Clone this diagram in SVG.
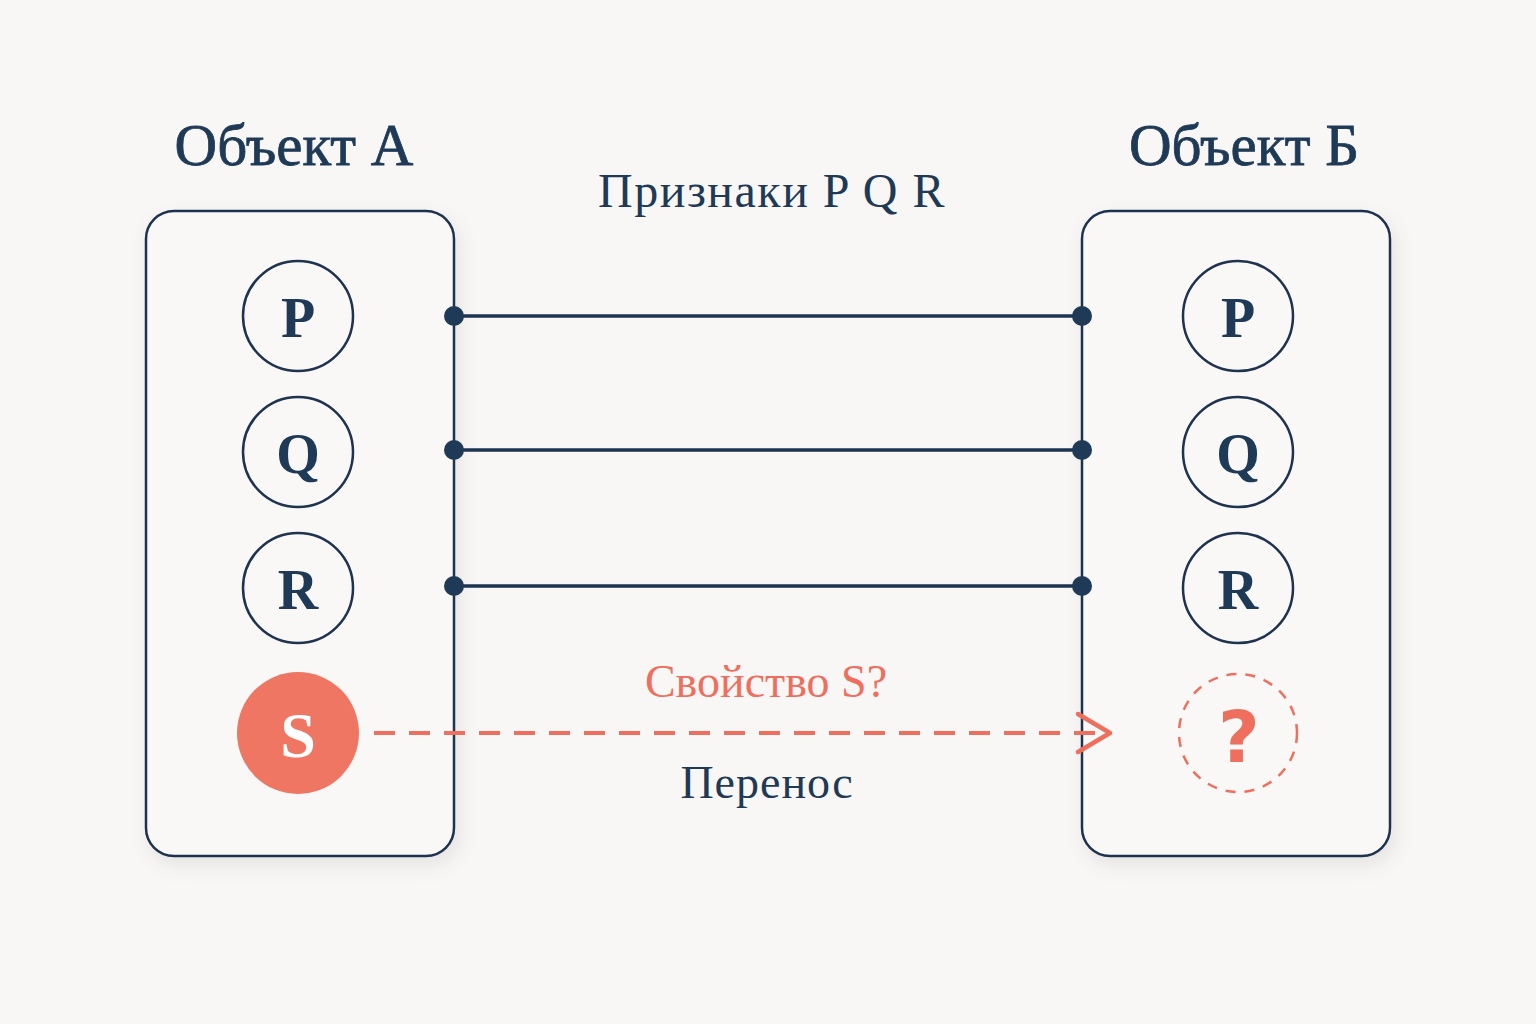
<svg xmlns="http://www.w3.org/2000/svg" width="1536" height="1024" viewBox="0 0 1536 1024">
<style>
.box{fill:#F9F8F6;stroke:#1E3350;stroke-width:2.5}
.node{fill:none;stroke:#1E3350;stroke-width:2.5}
.t{font-family:"Liberation Serif","DejaVu Serif",serif;fill:#1E3A56;text-anchor:middle}
.title{stroke:#1E3A56;stroke-width:0.8}
.lt{font-size:56px;font-weight:bold}
.link{stroke:#1E3350;stroke-width:3.5;fill:none}
.dot{fill:#1E3A56}
</style>
<defs>
<filter id="sh" x="-20%" y="-20%" width="140%" height="140%">
<feDropShadow dx="4" dy="8" stdDeviation="10" flood-color="#000" flood-opacity="0.08"/>
</filter>
<marker id="arr" markerWidth="44" markerHeight="48" refX="36" refY="24" orient="auto" markerUnits="userSpaceOnUse">
<path d="M4,5 L36,24 L4,43" fill="none" stroke="#EE6F5E" stroke-width="4.5" stroke-linecap="round" stroke-linejoin="round"/>
</marker>
</defs>
<rect width="1536" height="1024" fill="#F8F7F5"/>
<text class="t title" x="294" y="165" font-size="59">Объект А</text>
<text class="t title" x="1244" y="165" font-size="59">Объект Б</text>
<text class="t" x="772" y="207" font-size="48" letter-spacing="1.5">Признаки P Q R</text>
<g id="objectA">
<rect class="box" x="146" y="211" width="308" height="645" rx="28" filter="url(#sh)"/>
</g>
<g id="objectB">
<rect class="box" x="1082" y="211" width="308" height="645" rx="28" filter="url(#sh)"/>
</g>
<g id="A-P"><circle class="node" cx="298" cy="316" r="55"/><text class="t lt" x="298" y="337">P</text></g>
<g id="A-Q"><circle class="node" cx="298" cy="452" r="55"/><text class="t lt" x="298" y="473">Q</text></g>
<g id="A-R"><circle class="node" cx="298" cy="588" r="55"/><text class="t lt" x="298" y="609">R</text></g>
<g id="A-S"><circle cx="298" cy="733" r="61" fill="#EE7662"/><text class="t lt" x="298" y="757" style="fill:#fff;font-size:64px">S</text></g>
<g id="B-P"><circle class="node" cx="1238" cy="316" r="55"/><text class="t lt" x="1238" y="337">P</text></g>
<g id="B-Q"><circle class="node" cx="1238" cy="452" r="55"/><text class="t lt" x="1238" y="473">Q</text></g>
<g id="B-R"><circle class="node" cx="1238" cy="588" r="55"/><text class="t lt" x="1238" y="609">R</text></g>
<g id="B-unknown"><circle cx="1238" cy="733" r="59" fill="none" stroke="#EE6F5E" stroke-width="2.5" stroke-dasharray="10 9"/><text x="1239" y="762" style="fill:#EE6F5E;font-family:'DejaVu Sans',sans-serif;font-weight:bold;font-size:72px;text-anchor:middle">?</text></g>
<g id="connectors">
<line class="link" x1="454" y1="316" x2="1082" y2="316"/>
<line class="link" x1="454" y1="450" x2="1082" y2="450"/>
<line class="link" x1="454" y1="586" x2="1082" y2="586"/>
<circle class="dot" cx="454" cy="316" r="10"/><circle class="dot" cx="1082" cy="316" r="10"/>
<circle class="dot" cx="454" cy="450" r="10"/><circle class="dot" cx="1082" cy="450" r="10"/>
<circle class="dot" cx="454" cy="586" r="10"/><circle class="dot" cx="1082" cy="586" r="10"/>
<line x1="374" y1="733" x2="1110" y2="733" stroke="#EE6F5E" stroke-width="4" stroke-dasharray="21 14" marker-end="url(#arr)"/>
</g>
<text class="t" x="766" y="697" font-size="46" style="fill:#EE6F5E">Свойство S?</text>
<text class="t" x="767" y="798" font-size="46" letter-spacing="1">Перенос</text>
</svg>
